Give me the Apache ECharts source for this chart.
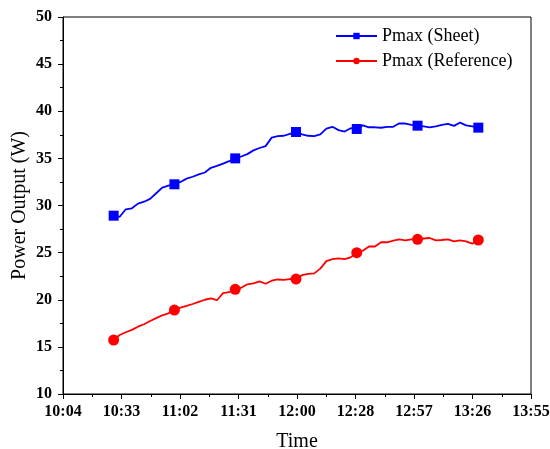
<!DOCTYPE html>
<html>
<head>
<meta charset="utf-8">
<script src="https://cdn.jsdelivr.net/npm/echarts@6/dist/echarts.min.js"></script>
<style>
  html, body { margin: 0; padding: 0; background: #fff; }
  #chart { width: 550px; height: 449px; }
</style>
</head>
<body>
<div id="chart"></div>
<script>
const times = [
  "10:29", "10:32", "10:35", "10:38", "10:41", "10:44", "10:47", "10:50", "10:53", "10:56",
  "10:59", "11:02", "11:05", "11:08", "11:11", "11:14", "11:17", "11:20", "11:23", "11:26",
  "11:29", "11:32", "11:35", "11:38", "11:41", "11:44", "11:47", "11:50", "11:53", "11:56",
  "11:59", "12:02", "12:05", "12:08", "12:11", "12:14", "12:17", "12:20", "12:23", "12:26",
  "12:29", "12:32", "12:35", "12:38", "12:41", "12:44", "12:47", "12:50", "12:53", "12:56",
  "12:59", "13:02", "13:05", "13:08", "13:11", "13:14", "13:17", "13:20", "13:23", "13:26",
  "13:29"
];

const pmaxSheet = [
  28.92, 28.8, 29.6, 29.7, 30.2, 30.4, 30.7, 31.3, 31.9, 32.1,
  32.25, 32.5, 32.85, 33.05, 33.3, 33.5, 34.0, 34.2, 34.45, 34.7,
  35.0, 35.2, 35.45, 35.85, 36.1, 36.3, 37.2, 37.35, 37.4, 37.6,
  37.8, 37.55, 37.4, 37.35, 37.55, 38.15, 38.35, 38.0, 37.85, 38.2,
  38.12, 38.5, 38.3, 38.3, 38.25, 38.35, 38.35, 38.72, 38.7, 38.55,
  38.47, 38.4, 38.3, 38.4, 38.55, 38.65, 38.45, 38.8, 38.5, 38.4,
  38.26
];

const pmaxReference = [
  15.73, 16.26, 16.55, 16.8, 17.14, 17.4, 17.75, 18.05, 18.35, 18.56,
  18.91, 19.16, 19.34, 19.55, 19.78, 20.0, 20.15, 19.95, 20.7, 20.8,
  21.11, 21.28, 21.64, 21.74, 21.95, 21.7, 22.02, 22.15, 22.1, 22.2,
  22.2, 22.6, 22.75, 22.8, 23.3, 24.1, 24.3, 24.39, 24.3, 24.5,
  25.0, 25.2, 25.65, 25.65, 26.1, 26.1, 26.27, 26.4, 26.3, 26.4,
  26.41, 26.5, 26.55, 26.3, 26.34, 26.4, 26.2, 26.3, 26.2, 25.95,
  26.34
];

// x axis: 10:04 .. 13:55 split in 8 equal steps
const axisStart = "10:04";
const axisEnd = "13:55";
const axisSteps = 8;
const markEvery = 10;

const toMin = (s) => {
  const [h, m] = s.split(":").map(Number);
  return h * 60 + m;
};
const startMin = toMin(axisStart);
const stepMin = (toMin(axisEnd) - startMin) / axisSteps;
const toX = (s) => (toMin(s) - startMin) / stepMin;
const fmtTime = (v) => {
  const t = Math.round(startMin + v * stepMin);
  const h = Math.floor(t / 60);
  const m = t % 60;
  return h + ":" + (m < 10 ? "0" + m : m);
};

const buildData = (values) =>
  values.map((v, i) => ({
    value: [toX(times[i]), v],
    symbol: i % markEvery === 0 ? undefined : "none",
  }));

const serif = "'Liberation Serif', 'Times New Roman', serif";

const chart = echarts.init(document.getElementById("chart"));

const options = {
  animation: false,
  grid: {
    left: 63,
    right: 19,
    top: 17,
    bottom: 55,
    outerBoundsMode: "none",
    show: true,
    borderColor: "#000",
    borderWidth: 1,
  },
  legend: {
    orient: "vertical",
    left: 330,
    top: 22,
    itemWidth: 41,
    itemHeight: 8,
    itemGap: 7,
    textStyle: { fontFamily: serif, fontSize: 18, color: "#000" },
    data: ["Pmax (Sheet)", "Pmax (Reference)"],
  },
  xAxis: {
    type: "value",
    min: 0,
    max: axisSteps,
    interval: 1,
    name: "Time",
    nameLocation: "middle",
    nameGap: 38,
    nameMoveOverlap: false,
    nameTextStyle: { fontFamily: serif, fontSize: 20, color: "#000" },
    axisLine: { show: true, lineStyle: { color: "#000", width: 1 } },
    axisTick: { show: true, inside: false, length: 5, lineStyle: { color: "#000" } },
    minorTick: { show: true, splitNumber: 2, length: 3, lineStyle: { color: "#000" } },
    splitLine: { show: false },
    axisLabel: {
      formatter: fmtTime,
      fontFamily: serif,
      fontWeight: "bold",
      fontSize: 16,
      color: "#000",
      margin: 10,
    },
  },
  yAxis: {
    type: "value",
    min: 10,
    max: 50,
    interval: 5,
    name: "Power Output (W)",
    nameLocation: "middle",
    nameGap: 33,
    nameMoveOverlap: false,
    nameTextStyle: { fontFamily: serif, fontSize: 20, color: "#000" },
    axisLine: { show: true, lineStyle: { color: "#000", width: 1 } },
    axisTick: { show: true, inside: false, length: 5, lineStyle: { color: "#000" } },
    minorTick: { show: true, splitNumber: 2, length: 3, lineStyle: { color: "#000" } },
    splitLine: { show: false },
    axisLabel: {
      fontFamily: serif,
      fontWeight: "bold",
      fontSize: 16,
      color: "#000",
      margin: 11,
    },
  },
  series: [
    {
      name: "Pmax (Sheet)",
      type: "line",
      data: buildData(pmaxSheet),
      symbol: "rect",
      symbolSize: 10,
      showAllSymbol: true,
      color: "#0000ff",
      lineStyle: { color: "#0000ff", width: 1.8 },
      itemStyle: { color: "#0000ff" },
    },
    {
      name: "Pmax (Reference)",
      type: "line",
      data: buildData(pmaxReference),
      symbol: "circle",
      symbolSize: 11,
      showAllSymbol: true,
      color: "#ff0000",
      lineStyle: { color: "#ff0000", width: 1.8 },
      itemStyle: { color: "#ff0000" },
    },
  ],
};

chart.setOption(options);

window.addEventListener("resize", () => {
  chart.resize();
});
</script>
</body>
</html>
